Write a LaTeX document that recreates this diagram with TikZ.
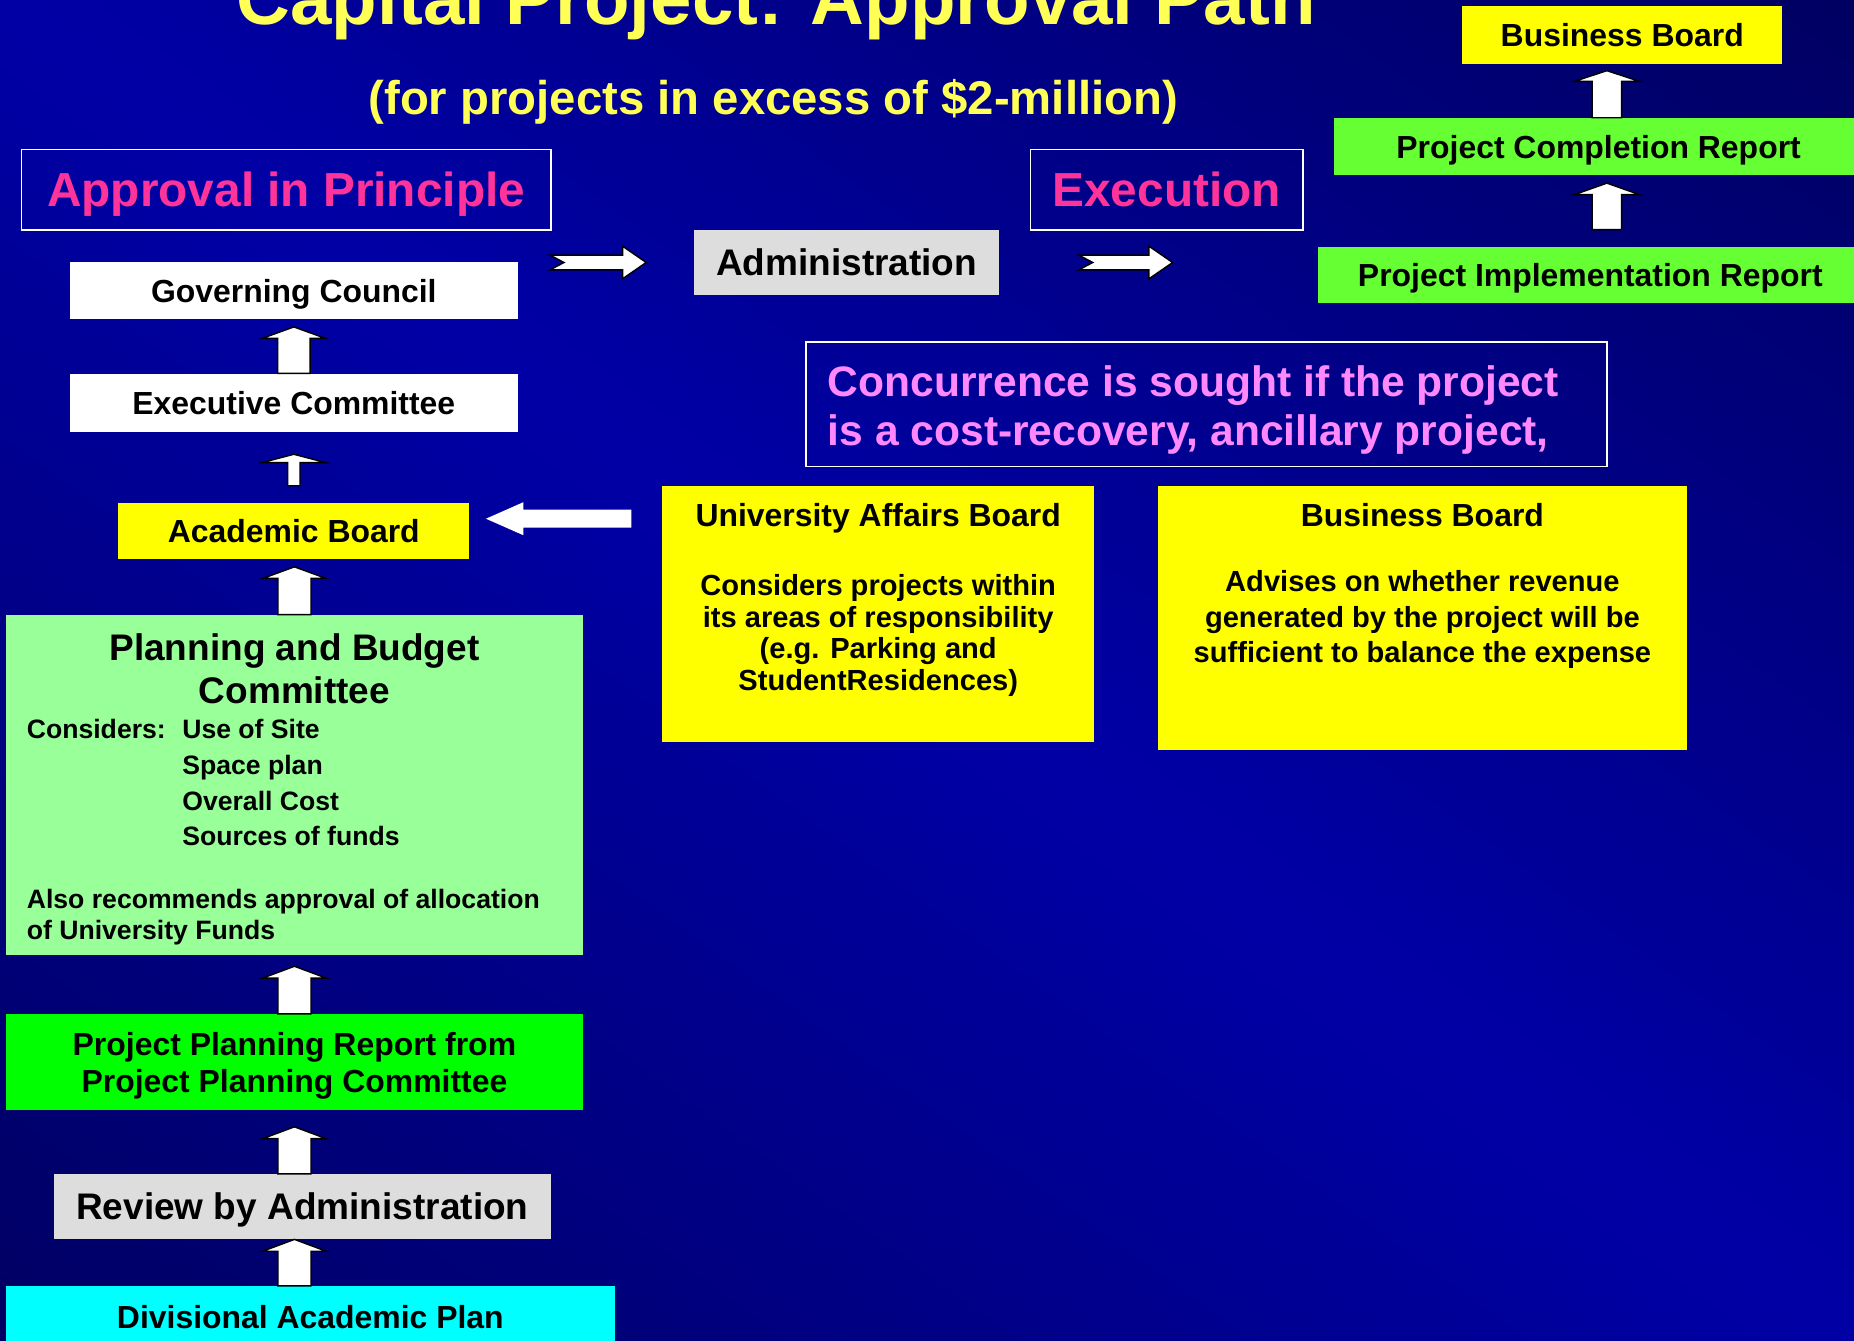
\documentclass[tikz,border=0pt]{standalone}
\usepackage{fontspec}
\setmainfont{Liberation Sans}
\usetikzlibrary{calc}

\definecolor{bgdark}{RGB}{0,0,98}
\definecolor{bgmid}{RGB}{0,0,166}
\definecolor{ttlyellow}{RGB}{255,255,85}
\definecolor{pinkhd}{RGB}{255,51,153}
\definecolor{concviolet}{RGB}{255,136,255}
\definecolor{boardyellow}{RGB}{255,255,0}
\definecolor{admgray}{RGB}{221,221,221}
\definecolor{pbgreen}{RGB}{153,255,153}
\definecolor{pprgreen}{RGB}{0,255,0}
\definecolor{rptgreen}{RGB}{102,255,51}
\definecolor{dapcyan}{RGB}{0,255,255}

\tikzset{
  board/.style={inner sep=0pt, text=black, font=\bfseries\fontsize{27}{32}\selectfont, text height=19.3pt, text depth=0pt},
  bigboard/.style={board, font=\bfseries\fontsize{31.3}{37}\selectfont, text height=22.4pt},
  heading/.style={draw=white, line width=1.5pt, inner sep=0pt, text=pinkhd, font=\bfseries\fontsize{40.4}{48}\selectfont, text height=28.9pt, text depth=0pt},
  panel/.style={inner sep=0pt, fill=boardyellow},
  linetxt/.style={inner sep=0pt, text=black, anchor=base, font=\bfseries\fontsize{27}{32}\selectfont},
  bodytxt/.style={linetxt, font=\bfseries\fontsize{24.6}{28}\selectfont},
  pbtxt/.style={linetxt, anchor=base west, font=\bfseries\fontsize{22.5}{26}\selectfont},
  blkarrow/.style={fill=white, draw=black, line width=1.2pt},
}

% up block arrow: tail, target, gap, shaft half, head half, head length
\newcommand{\blkup}[6]{%
  \coordinate (ta) at (#1);
  \coordinate (tb) at ($(ta |- #2)+(0,#3)$);
  \draw[blkarrow] ($(ta)+(-#4,0)$) -- ($(tb)+(-#4,#6)$) -- ($(tb)+(-#5,#6)$) -- (tb)
    -- ($(tb)+(#5,#6)$) -- ($(tb)+(#4,#6)$) -- ($(ta)+(#4,0)$) -- cycle;}
% notched right block arrow: tail, tip, shaft half, head half, head length, notch
\newcommand{\blkright}[6]{%
  \coordinate (ta) at (#1);
  \coordinate (tb) at (#2);
  \draw[blkarrow] ($(ta)+(0,-#3)$) -- ($(tb)+(-#5,-#3)$) -- ($(tb)+(-#5,-#4)$) -- (tb)
    -- ($(tb)+(-#5,#4)$) -- ($(tb)+(-#5,#3)$) -- ($(ta)+(0,#3)$) -- ($(ta)+(#6,0)$) -- cycle;}
% plain left block arrow: tail, tip, shaft half, head half, head length
\newcommand{\blkleft}[5]{%
  \coordinate (ta) at (#1);
  \coordinate (tb) at (#2);
  \fill[white] ($(ta)+(0,-#3)$) -- ($(tb)+(#5,-#3)$) -- ($(tb)+(#5,-#4)$) -- (tb)
    -- ($(tb)+(#5,#4)$) -- ($(tb)+(#5,#3)$) -- ($(ta)+(0,#3)$) -- cycle;}

\begin{document}
\begin{tikzpicture}[x=1pt,y=-1pt]
  \useasboundingbox (0,0) rectangle (1568,1134.1);
  % background: diagonal bands, bright from top left to bottom right
  \fill[bgdark] (0,0) rectangle (1568,1134.1);
  \foreach \k in {-40,...,39} {
    \pgfmathsetmacro\sa{\k*39.2}
    \pgfmathsetmacro\sb{(\k+1)*39.2+2}
    \pgfmathsetmacro\p{100*(1-abs(\k+0.5)/40)}
    \fill[bgmid!\p!bgdark] (-10,{(-10+\sa)*0.7232}) -- (1580,{(1580+\sa)*0.7232})
      -- (1580,{(1580+\sb)*0.7232}) -- (-10,{(-10+\sb)*0.7232}) -- cycle;
  }

  % titles
  \node[inner sep=0pt, anchor=base, text=ttlyellow, font=\bfseries\fontsize{63}{70}\selectfont] (title) at (656.5,21) {Capital Project: Approval Path};
  \node[inner sep=0pt, anchor=base, text=ttlyellow, font=\bfseries\fontsize{40}{46}\selectfont] (sub) at (654,97) {(for projects in excess of \$2-million)};

  \node[heading, minimum width=447.5pt, minimum height=68pt] (aip) at (242,160.5) {Approval in Principle};
  \node[heading, minimum width=230.5pt, minimum height=68pt] (exe) at (986.7,160.5) {Execution};

  % left column
  \node[board, fill=white, minimum width=379pt, minimum height=48pt] (gov) at (248.5,246) {Governing Council};
  \node[board, fill=white, minimum width=379pt, minimum height=49pt] (exec) at (248.5,340.5) {Executive Committee};
  \node[board, fill=boardyellow, minimum width=297pt, minimum height=48pt] (acad) at (248.5,449) {Academic Board};

  \node[inner sep=0pt, fill=pbgreen, minimum width=488pt, minimum height=288pt] (pb) at (249,664) {};
  \node[linetxt, font=\bfseries\fontsize{31.3}{37}\selectfont] (pbt1) at (249,558.3) {Planning and Budget};
  \node[linetxt, font=\bfseries\fontsize{31.3}{37}\selectfont] (pbt2) at (249,594.9) {Committee};
  \node[pbtxt] (pbc) at (22.5,624.6) {Considers:};
  \foreach \entry/\yb [count=\i] in {Use of Site/624.6, Space plan/655.3, Overall Cost/685.4, Sources of funds/715.1}
    \node[pbtxt] (pbi\i) at (154,\yb) {\entry};
  \node[pbtxt] (pba1) at (22.5,768.3) {Also recommends approval of allocation};
  \node[pbtxt] (pba2) at (22.5,794.7) {of University Funds};

  \node[inner sep=0pt, fill=pprgreen, minimum width=488pt, minimum height=81.2pt] (ppr) at (249,898.2) {};
  \node[linetxt] (ppr1) at (249,892.4) {Project Planning Report from};
  \node[linetxt] (ppr2) at (249,924.3) {Project Planning Committee};

  \node[bigboard, fill=admgray, minimum width=420.5pt, minimum height=55pt] (rev) at (255.75,1020.5) {Review by Administration};
  \node[board, fill=dapcyan, minimum width=515pt, minimum height=52.6pt] (dap) at (262.5,1114) {Divisional Academic Plan};

  % middle and right
  \node[bigboard, fill=admgray, minimum width=258pt, minimum height=54.4pt] (admin) at (716,222) {Administration};

  \node[board, fill=boardyellow, minimum width=271pt, minimum height=49pt] (bbtop) at (1372,29.5) {Business Board};
  \node[board, fill=rptgreen, minimum width=448pt, minimum height=48.4pt] (pcr) at (1352,124) {Project Completion Report};
  \node[board, fill=rptgreen, minimum width=461pt, minimum height=48pt] (pir) at (1345,232.5) {Project Implementation Report};

  \node[draw=white, line width=1.5pt, inner sep=0pt, minimum width=677.5pt, minimum height=105.6pt] (conc) at (1020.25,341.8) {};
  \node[inner sep=0pt, anchor=base west, text=concviolet, font=\bfseries\fontsize{36}{43}\selectfont] (conc1) at (700,335) {Concurrence is sought if the project};
  \node[inner sep=0pt, anchor=base west, text=concviolet, font=\bfseries\fontsize{36}{43}\selectfont] (conc2) at (700,377) {is a cost-recovery, ancillary project,};

  \node[panel, minimum width=365.5pt, minimum height=216.5pt] (uab) at (742.75,519) {};
  \node[linetxt] (uabt) at (742.75,445) {University Affairs Board};
  \foreach \entry/\yb [count=\i] in {Considers projects within/504, its areas of responsibility/530.7, {(e.g. Parking and}/557.3, StudentResidences)/584}
    \node[bodytxt] (uabl\i) at (742.75,\yb) {\entry};

  \node[panel, minimum width=447.3pt, minimum height=223.3pt] (bbmid) at (1203,522.5) {};
  \node[linetxt] (bbt) at (1203,445) {Business Board};
  \foreach \entry/\yb [count=\i] in {Advises on whether revenue/500.4, generated by the project will be/530.4, sufficient to balance the expense/560.4}
    \node[bodytxt] (bbl\i) at (1203,\yb) {\entry};

  % arrows
  \blkup{exec.north}{gov.south}{6.3}{13.75}{26.8}{9.7}
  \blkup{$(acad.north)+(0,-14)$}{exec.south}{19}{5.2}{26.8}{7}
  \blkup{pb.north}{acad.south}{6.2}{14}{26.8}{9.8}
  \blkup{ppr.north}{pb.south}{9}{14}{26.8}{10}
  \blkup{$(rev.north)+(-6.75,0)$}{ppr.south}{14}{14}{26.8}{10}
  \blkup{$(dap.north)+(-13.5,0)$}{rev.south}{0}{14}{26.8}{10}
  \blkup{$(pcr.north)+(7,0)$}{bbtop.south}{5.6}{12.5}{27.5}{9}
  \blkup{$(pir.north)+(14,-14.1)$}{pcr.south}{6.5}{12.5}{27.5}{9.7}

  \blkright{$(admin.west)+(-121.8,0)$}{$(admin.west)+(-40.3,0)$}{6.3}{13.8}{20}{12}
  \blkright{$(admin.east)+(67,0)$}{$(admin.east)+(146.5,0)$}{6.3}{13.8}{20}{12}

  \coordinate (uabtip) at ($(acad.east)+(13.8,-10.3)$);
  \blkleft{$(uab.west |- uabtip)+(-25.8,0)$}{uabtip}{7.6}{14}{31.7}
\end{tikzpicture}
\end{document}
